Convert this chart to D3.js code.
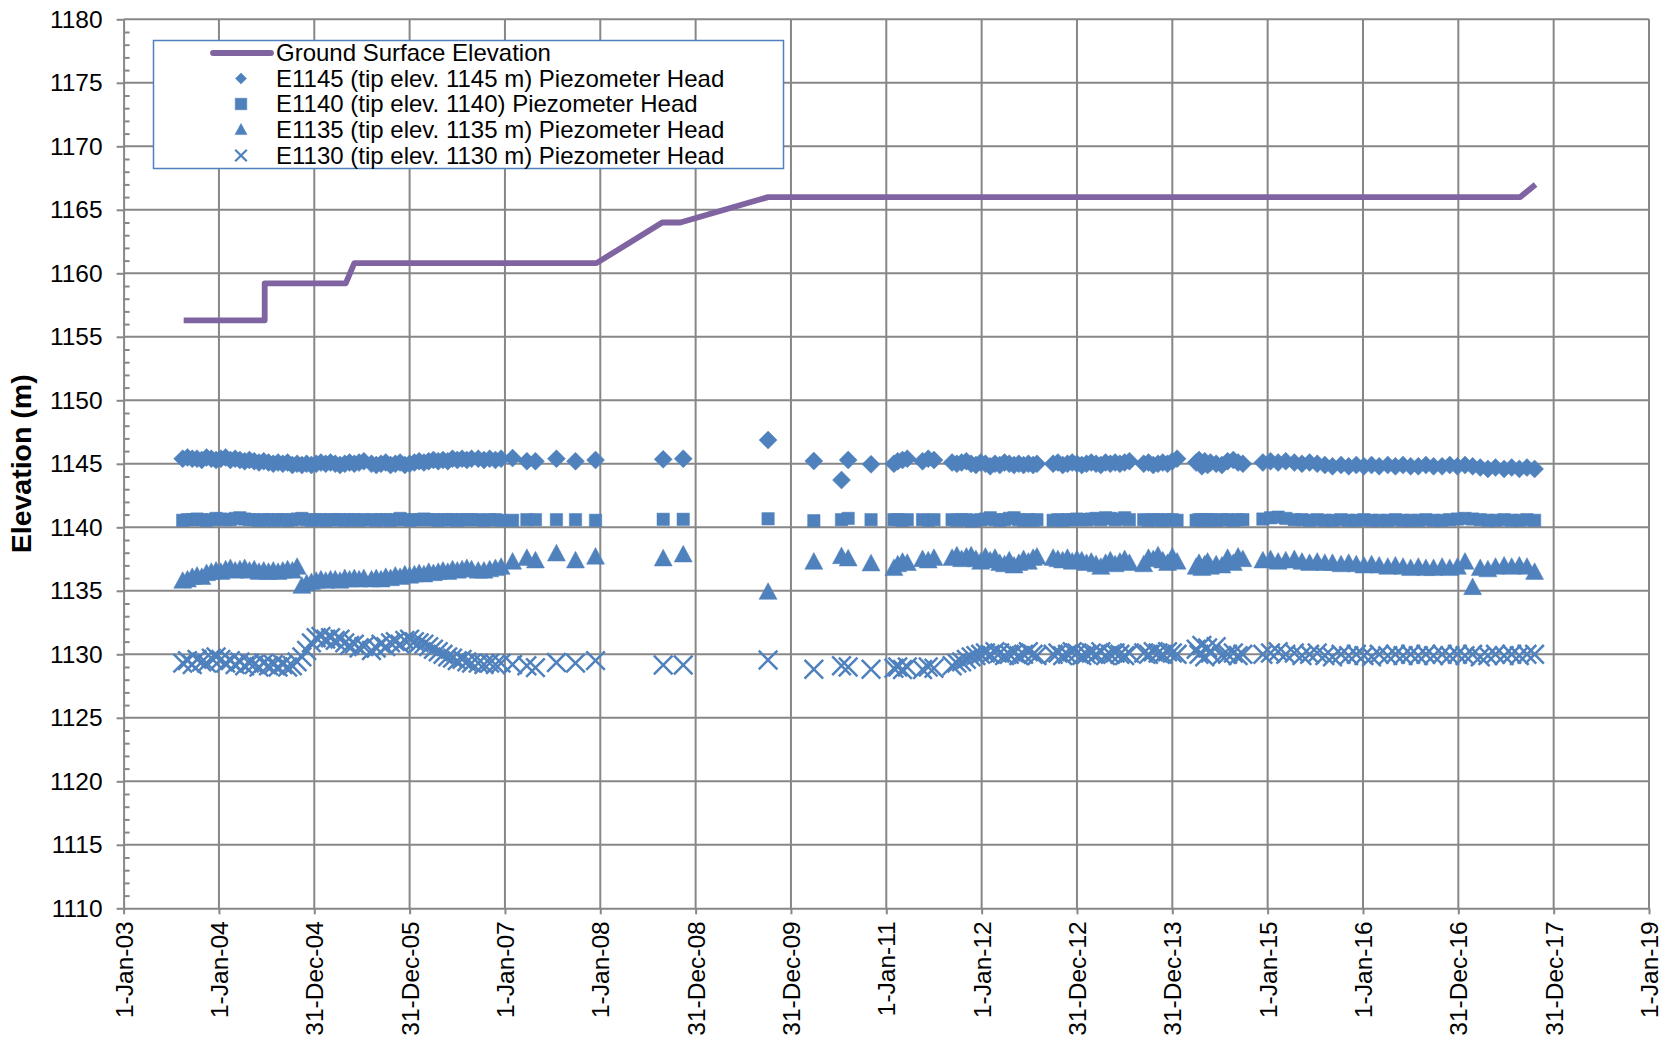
<!DOCTYPE html>
<html><head><meta charset="utf-8">
<script src="https://cdn.jsdelivr.net/npm/d3@7"></script>
<style>
body{margin:0;background:#fff}
text{font-family:Arial,"Liberation Sans",sans-serif;fill:#000}
</style>
</head><body>
<svg id="chart" width="1665" height="1042"></svg>
<script>
// ---------- data ----------
const xTickLabels = ["1-Jan-03","1-Jan-04","31-Dec-04","31-Dec-05","1-Jan-07","1-Jan-08","31-Dec-08","31-Dec-09",
  "1-Jan-11","1-Jan-12","31-Dec-12","31-Dec-13","1-Jan-15","1-Jan-16","31-Dec-16","31-Dec-17","1-Jan-19"];
const yTickValues = [1110,1115,1120,1125,1130,1135,1140,1145,1150,1155,1160,1165,1170,1175,1180];

const seriesNames = ["Ground Surface Elevation",
  "E1145 (tip elev. 1145 m) Piezometer Head",
  "E1140 (tip elev. 1140) Piezometer Head",
  "E1135 (tip elev. 1135 m) Piezometer Head",
  "E1130 (tip elev. 1130 m) Piezometer Head"];

// ground surface (decimal year, elevation m)
const groundDates = [2003.63, 2004.48, 2004.48, 2005.33, 2005.42, 2007.96, 2008.65, 2008.84, 2009.76, 2017.65, 2017.81];
const groundElev  = [1156.3, 1156.3, 1159.2, 1159.2, 1160.8, 1160.8, 1164.0, 1164.0, 1166.0, 1166.0, 1167.0];

// piezometer readings (decimal year)
const dates = [
  2003.62,2003.67,2003.72,2003.77,2003.82,2003.87,2003.92,2003.97,
  2004.02,2004.07,2004.12,2004.17,2004.22,2004.27,2004.32,2004.37,2004.42,2004.47,2004.52,2004.57,2004.62,2004.67,2004.72,2004.77,2004.82,2004.87,2004.92,2004.97,
  2005.02,2005.07,2005.12,2005.17,2005.22,2005.27,2005.32,2005.37,2005.42,2005.47,2005.52,
  2005.60,2005.65,2005.70,2005.75,2005.80,2005.85,2005.90,2005.95,2006.00,2006.05,2006.10,
  2006.15,2006.20,2006.25,2006.30,2006.35,2006.40,2006.45,2006.50,2006.55,2006.60,2006.65,
  2006.72,2006.78,2006.84,2006.90,2006.96,2007.08,2007.23,2007.32,2007.54,2007.74,2007.95,
  2008.66,2008.87,2009.76,2010.24,2010.53,2010.60,2010.84,
  2011.08,2011.12,2011.17,2011.22,
  2011.38,2011.44,2011.50,
  2011.69,2011.74,2011.79,2011.84,2011.89,2011.94,2011.99,2012.04,2012.09,2012.14,2012.19,2012.24,2012.29,2012.34,2012.39,2012.44,2012.49,2012.54,2012.58,
  2012.75,2012.80,2012.85,2012.90,2012.95,2013.00,2013.05,2013.10,2013.15,2013.20,2013.25,2013.30,2013.35,2013.40,2013.45,2013.50,2013.55,
  2013.70,2013.75,2013.80,2013.85,2013.90,2013.95,2014.00,2014.05,
  2014.25,2014.28,2014.31,2014.34,2014.37,2014.40,2014.46,2014.52,2014.58,2014.64,2014.69,2014.74,
  2014.95,2015.03,2015.11,2015.19,2015.28,2015.36,2015.44,2015.52,2015.60,2015.68,
  2015.77,2015.85,2015.93,2016.01,2016.09,2016.17,2016.26,2016.34,2016.42,2016.50,
  2016.58,2016.66,2016.74,2016.83,2016.91,2016.99,2017.07,2017.15,2017.23,2017.31,
  2017.39,2017.48,2017.56,2017.64,2017.72,2017.80
];

const e1145 = [
  1145.4,1145.5,1145.4,1145.4,1145.3,1145.5,1145.4,1145.3,
  1145.4,1145.5,1145.3,1145.4,1145.3,1145.2,1145.3,1145.2,1145.1,1145.2,1145.1,1145.0,1145.1,1145.0,1145.1,1144.9,1145.0,1144.9,1145.0,1144.9,
  1145.0,1145.1,1145.0,1145.1,1145.0,1144.9,1145.0,1145.1,1145.0,1145.1,1145.2,
  1145.0,1144.9,1145.0,1145.1,1144.9,1145.0,1145.1,1144.9,1145.0,1145.1,1145.2,
  1145.1,1145.2,1145.3,1145.2,1145.3,1145.2,1145.4,1145.3,1145.4,1145.3,1145.4,
  1145.4,1145.3,1145.4,1145.3,1145.4,1145.45,1145.2,1145.2,1145.4,1145.2,1145.3,
  1145.35,1145.4,1146.87,1145.22,1143.72,1145.3,1144.96,
  1145.0,1145.2,1145.3,1145.4,
  1145.2,1145.4,1145.3,
  1145.1,1145.0,1145.1,1145.2,1145.0,1144.9,1145.1,1145.0,1144.8,1145.0,1144.9,1145.1,1145.0,1144.9,1145.0,1144.9,1145.0,1144.9,1145.0,
  1145.0,1145.1,1144.9,1145.0,1145.1,1145.0,1144.9,1145.0,1145.1,1145.0,1144.9,1145.1,1145.0,1145.1,1145.0,1145.1,1145.2,
  1145.0,1145.1,1144.9,1145.0,1145.1,1145.0,1145.2,1145.4,
  1145.1,1145.3,1144.8,1145.2,1144.9,1145.1,1145.0,1144.9,1145.2,1145.3,1145.1,1145.0,
  1145.1,1145.2,1145.1,1145.2,1145.1,1145.0,1145.1,1145.0,1144.9,1144.8,
  1144.9,1144.8,1144.9,1144.8,1144.9,1144.8,1144.9,1144.8,1144.9,1144.8,
  1144.8,1144.9,1144.8,1144.8,1144.9,1144.8,1144.9,1144.8,1144.7,1144.6,
  1144.7,1144.6,1144.7,1144.6,1144.7,1144.6
];

const e1140 = [
  1140.55,1140.6,1140.6,1140.65,1140.6,1140.55,1140.6,1140.7,
  1140.65,1140.6,1140.6,1140.7,1140.75,1140.65,1140.6,1140.6,1140.55,1140.6,1140.6,1140.55,1140.6,1140.6,1140.55,1140.6,1140.65,1140.7,1140.6,1140.55,
  1140.6,1140.6,1140.55,1140.6,1140.6,1140.6,1140.55,1140.6,1140.6,1140.55,1140.6,
  1140.6,1140.55,1140.6,1140.6,1140.55,1140.6,1140.7,1140.6,1140.55,1140.6,1140.6,
  1140.65,1140.6,1140.6,1140.55,1140.6,1140.6,1140.6,1140.55,1140.6,1140.6,1140.6,
  1140.6,1140.55,1140.6,1140.6,1140.55,1140.55,1140.6,1140.6,1140.6,1140.6,1140.55,
  1140.63,1140.63,1140.67,1140.52,1140.6,1140.7,1140.6,
  1140.6,1140.6,1140.55,1140.6,
  1140.6,1140.55,1140.6,
  1140.6,1140.55,1140.6,1140.6,1140.5,1140.55,1140.6,1140.65,1140.75,1140.6,1140.55,1140.6,1140.7,1140.75,1140.6,1140.55,1140.6,1140.55,1140.6,
  1140.55,1140.6,1140.55,1140.6,1140.6,1140.65,1140.6,1140.6,1140.65,1140.7,1140.6,1140.75,1140.7,1140.6,1140.65,1140.75,1140.6,
  1140.6,1140.55,1140.6,1140.6,1140.55,1140.6,1140.6,1140.55,
  1140.55,1140.6,1140.6,1140.55,1140.6,1140.6,1140.55,1140.6,1140.6,1140.55,1140.6,1140.6,
  1140.65,1140.75,1140.8,1140.7,1140.6,1140.6,1140.55,1140.6,1140.55,1140.55,
  1140.6,1140.55,1140.55,1140.6,1140.55,1140.55,1140.55,1140.6,1140.55,1140.55,
  1140.55,1140.6,1140.55,1140.55,1140.6,1140.65,1140.7,1140.65,1140.6,1140.55,
  1140.55,1140.6,1140.55,1140.55,1140.6,1140.55
];

const e1135 = [
  1135.8,1135.9,1136.1,1136.2,1136.1,1136.4,1136.5,1136.6,
  1136.5,1136.7,1136.8,1136.6,1136.7,1136.8,1136.6,1136.7,1136.5,1136.6,1136.5,1136.6,1136.5,1136.6,1136.7,1136.6,1136.9,1135.4,1135.6,1135.7,
  1135.8,1135.9,1135.8,1135.9,1135.9,1135.8,1136.0,1135.9,1136.0,1135.9,1136.0,
  1135.9,1136.0,1135.9,1136.1,1136.0,1136.2,1136.1,1136.3,1136.2,1136.3,1136.4,
  1136.3,1136.5,1136.4,1136.5,1136.6,1136.5,1136.7,1136.6,1136.7,1136.8,1136.7,
  1136.6,1136.6,1136.7,1136.8,1136.9,1137.3,1137.6,1137.4,1137.95,1137.4,1137.7,
  1137.56,1137.87,1134.93,1137.3,1137.74,1137.56,1137.17,
  1136.8,1137.1,1137.3,1137.2,
  1137.5,1137.4,1137.6,
  1137.6,1137.8,1137.5,1137.7,1137.8,1137.5,1137.3,1137.7,1137.4,1137.6,1137.2,1137.1,1137.4,1137.0,1137.2,1137.5,1137.3,1137.6,1137.7,
  1137.6,1137.5,1137.4,1137.6,1137.3,1137.5,1137.4,1137.2,1137.3,1137.1,1136.9,1137.2,1137.4,1137.1,1137.3,1137.5,1137.2,
  1137.1,1137.6,1137.5,1137.8,1137.4,1137.2,1137.7,1137.3,
  1136.9,1137.2,1136.8,1137.1,1137.3,1136.9,1137.1,1137.0,1137.6,1137.2,1137.7,1137.5,
  1137.4,1137.5,1137.3,1137.4,1137.5,1137.3,1137.2,1137.3,1137.2,1137.2,
  1137.1,1137.2,1137.1,1137.0,1137.1,1137.0,1136.9,1137.0,1136.9,1136.8,
  1136.9,1136.8,1136.8,1136.9,1136.8,1136.9,1137.3,1135.3,1136.8,1136.7,
  1136.9,1137.0,1136.9,1137.0,1136.9,1136.5
];

const e1130 = [
  1129.3,1129.5,1129.2,1129.6,1129.4,1129.3,1129.7,1129.8,
  1129.6,1129.3,1129.5,1129.2,1129.4,1129.1,1129.3,1129.2,1129.0,1129.3,1129.1,1129.2,1129.0,1129.2,1129.0,1129.1,1129.4,1129.8,1130.3,1130.9,
  1131.3,1131.4,1131.2,1131.3,1131.1,1131.2,1130.9,1130.7,1130.8,1130.5,1130.6,
  1130.3,1130.5,1130.8,1130.6,1130.9,1131.0,1130.8,1131.1,1131.2,1131.0,1130.9,
  1130.8,1130.6,1130.4,1130.2,1130.0,1129.8,1129.7,1129.5,1129.6,1129.4,1129.3,
  1129.3,1129.2,1129.3,1129.2,1129.3,1129.2,1129.1,1128.95,1129.35,1129.3,1129.5,
  1129.16,1129.16,1129.55,1128.82,1129.1,1129.0,1128.82,
  1128.9,1129.0,1128.8,1129.0,
  1128.8,1129.0,1128.9,
  1129.1,1129.3,1129.4,1129.6,1129.8,1129.9,1130.0,1130.1,1130.0,1130.2,1130.1,1129.9,1130.0,1130.1,1129.9,1130.0,1130.2,1130.0,1129.9,
  1130.0,1130.1,1129.9,1130.0,1130.2,1130.1,1129.9,1130.0,1130.1,1130.0,1130.2,1129.9,1130.0,1130.1,1130.0,1129.9,1130.1,
  1130.1,1130.0,1130.2,1130.1,1130.0,1130.2,1130.1,1130.0,
  1130.4,1130.0,1130.7,1129.8,1130.5,1130.1,1130.6,1129.9,1130.0,1130.1,1129.9,1130.0,
  1130.0,1130.1,1130.2,1130.0,1130.1,1129.9,1130.0,1130.1,1129.9,1129.8,
  1130.0,1129.9,1130.0,1129.9,1129.8,1130.0,1129.9,1130.0,1129.9,1130.0,
  1129.9,1130.0,1129.9,1130.0,1129.9,1130.0,1129.9,1130.0,1129.8,1129.9,
  1130.0,1129.9,1130.0,1129.9,1130.0,1130.0
];

// ---------- styling ----------
const W = 1665, H = 1042;
const plot = {left: 123.6, right: 1649, top: 19.3, bottom: 908.3};
const gridColor = "#878787";
const markerColor = "#4F81BD";
const lineColor = "#8064A2";
const FONT = "Arial, 'Liberation Sans', sans-serif";

const svg = d3.select("#chart");
svg.append("rect").attr("width", W).attr("height", H).attr("fill", "#fff");

const x = d3.scaleLinear().domain([2003, 2019]).range([plot.left, plot.right]);
const y = d3.scaleLinear().domain([1110, 1180]).range([plot.bottom, plot.top]);
const xTickValues = xTickLabels.map((d, i) => 2003 + i);

// gridlines
const grid = svg.append("g");
grid.selectAll("line.v").data(xTickValues.slice(1)).join("line")
  .attr("x1", d => x(d)).attr("x2", d => x(d))
  .attr("y1", plot.top).attr("y2", plot.bottom)
  .attr("stroke", gridColor).attr("stroke-width", 2);
grid.selectAll("line.h").data(yTickValues.slice(1)).join("line")
  .attr("x1", plot.left).attr("x2", plot.right)
  .attr("y1", d => y(d)).attr("y2", d => y(d))
  .attr("stroke", gridColor).attr("stroke-width", 2);

// minor y ticks (inside)
const minorY = d3.range(1110, 1181, 1).filter(v => v % 5 !== 0);
svg.append("g").attr("transform", `translate(${plot.left},0)`)
  .call(d3.axisRight(y).tickValues(minorY).tickSize(6).tickFormat(""))
  .call(g => g.select(".domain").remove())
  .call(g => g.selectAll("line").attr("stroke", gridColor).attr("stroke-width", 2));

// y axis
svg.append("g").attr("transform", `translate(${plot.left},0)`)
  .call(d3.axisLeft(y).tickValues(yTickValues).tickFormat(d3.format("d")).tickSize(7).tickSizeOuter(0).tickPadding(14))
  .call(g => g.select(".domain").attr("stroke", gridColor).attr("stroke-width", 2))
  .call(g => g.selectAll("line").attr("stroke", gridColor).attr("stroke-width", 2))
  .call(g => g.selectAll("text").attr("font-size", 24.5).attr("font-family", FONT).attr("fill", "#000"));

// x axis
svg.append("g").attr("transform", `translate(0,${plot.bottom})`)
  .call(d3.axisBottom(x).tickValues(xTickValues).tickFormat((d, i) => xTickLabels[i]).tickSize(6).tickSizeOuter(0))
  .call(g => g.select(".domain").attr("stroke", gridColor).attr("stroke-width", 2))
  .call(g => g.selectAll("line").attr("stroke", gridColor).attr("stroke-width", 2))
  .call(g => g.selectAll("text")
    .attr("font-size", 24.5).attr("font-family", FONT).attr("fill", "#000")
    .attr("text-anchor", "end").attr("transform", "rotate(-90)")
    .attr("x", -13).attr("y", 0).attr("dy", "0.35em"));

// y title
svg.append("text")
  .attr("transform", `translate(21,${(plot.top + plot.bottom) / 2}) rotate(-90)`)
  .attr("text-anchor", "middle").attr("dy", "0.35em")
  .attr("font-size", 28.5).attr("font-weight", "bold")
  .text("Elevation (m)");

// ground surface line
const gData = groundDates.map((d, i) => [d, groundElev[i]]);
svg.append("path").datum(gData)
  .attr("d", d3.line().x(d => x(d[0])).y(d => y(d[1])))
  .attr("fill", "none").attr("stroke", lineColor).attr("stroke-width", 5.8)
  .attr("stroke-linejoin", "round");

// marker shapes
const shapes = {
  diamond: s => `M0,${-s}L${s},0L0,${s}L${-s},0Z`,
  square: s => `M${-s},${-s}H${s}V${s}H${-s}Z`,
  triangle: s => `M0,${-s}L${s},${s * 0.85}L${-s},${s * 0.85}Z`,
  cross: s => `M${-s},${-s}L${s},${s}M${-s},${s}L${s},${-s}`
};

function drawSeries(vals, shape, size) {
  const pts = dates.map((d, i) => [d, vals[i]]).filter(p => p[1] != null);
  svg.append("g").selectAll("path").data(pts).join("path")
    .attr("transform", d => `translate(${x(d[0])},${y(d[1])})`)
    .attr("d", shapes[shape](size))
    .attr("fill", shape === "cross" ? "none" : markerColor)
    .attr("stroke", markerColor)
    .attr("stroke-width", shape === "cross" ? 2.5 : 0.5);
}
drawSeries(e1145, "diamond", 9);
drawSeries(e1140, "square", 6.2);
drawSeries(e1135, "triangle", 9);
drawSeries(e1130, "cross", 9.3);

// legend
const lg = svg.append("g");
lg.append("rect").attr("x", 153.5).attr("y", 40.5).attr("width", 630).attr("height", 128)
  .attr("fill", "#fff").attr("stroke", markerColor).attr("stroke-width", 1.5);
const rowY = [53, 78.5, 104, 129.5, 155.5];
lg.append("line").attr("x1", 213).attr("x2", 271).attr("y1", rowY[0]).attr("y2", rowY[0])
  .attr("stroke", lineColor).attr("stroke-width", 5.8).attr("stroke-linecap", "round");
const legShapes = [null, ["diamond", 5.6], ["square", 5.8], ["triangle", 6], ["cross", 5.8]];
legShapes.forEach((s, i) => {
  if (!s) return;
  lg.append("path").attr("transform", `translate(241,${rowY[i]})`)
    .attr("d", shapes[s[0]](s[1]))
    .attr("fill", s[0] === "cross" ? "none" : markerColor)
    .attr("stroke", markerColor).attr("stroke-width", s[0] === "cross" ? 2.2 : 0.5);
});
seriesNames.forEach((n, i) => {
  lg.append("text").attr("x", 276).attr("y", rowY[i]).attr("dy", "0.35em")
    .attr("font-size", 24).attr("font-family", FONT).text(n);
});
</script>
</body></html>
